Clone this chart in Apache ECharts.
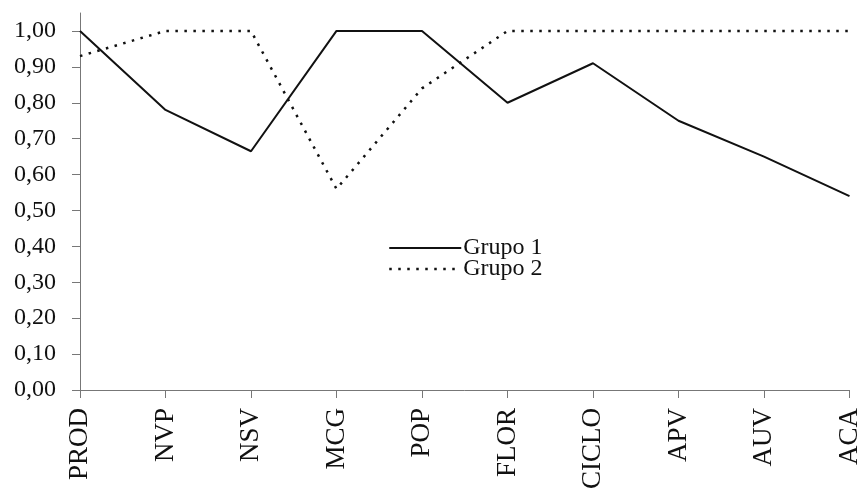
<!DOCTYPE html>
<html><head><meta charset="utf-8">
<script src="https://cdn.jsdelivr.net/npm/echarts@6/dist/echarts.min.js"></script>
<style>html,body{margin:0;padding:0;background:#fff}#c{width:863px;height:496px}</style>
</head><body><div id="c"></div>
<script>
const categories = ['PROD','NVP','NSV','MCG','POP','FLOR','CICLO','APV','AUV','ACA'];
const grupo1 = [1.00, 0.78, 0.665, 1.00, 1.00, 0.80, 0.91, 0.75, 0.65, 0.54];
const grupo2 = [0.93, 1.00, 1.00, 0.56, 0.84, 1.00, 1.00, 1.00, 1.00, 1.00];
const seriesNames = ['Grupo 1', 'Grupo 2'];

const font = '"Liberation Serif", "DejaVu Serif", serif';
const chart = echarts.init(document.getElementById('c'));
chart.setOption({
  animation: false,
  backgroundColor: '#fff',
  grid: {left: 80, right: 13, top: 13, bottom: 106, containLabel: false},
  legend: {
    orient: 'vertical', left: 383, top: 231, itemWidth: 72, itemHeight: 10, itemGap: -3,
    itemStyle: {opacity: 0},
    textStyle: {fontFamily: font, fontSize: 24, color: '#111', padding: [0, 0, 0, -3]},
    data: [
      {name: seriesNames[0]},
      {name: seriesNames[1], lineStyle: {type: [2.5, 6.5], width: 2.5, color: '#111'}}
    ]
  },
  xAxis: {
    type: 'category', data: categories, boundaryGap: false,
    axisLine: {lineStyle: {color: '#777', width: 1}},
    axisTick: {show: true, length: 8, lineStyle: {color: '#777'}, alignWithLabel: true},
    axisLabel: {rotate: 90, fontFamily: font, fontSize: 27, color: '#111', margin: 18, interval: 0}
  },
  yAxis: {
    type: 'value', min: 0, max: 1.05, interval: 0.1,
    axisLine: {show: true, lineStyle: {color: '#777', width: 1}},
    axisTick: {show: true, length: 8, lineStyle: {color: '#777'}},
    splitLine: {show: false},
    axisLabel: {showMaxLabel: false, fontFamily: font, fontSize: 24, color: '#111', margin: 24,
      formatter: v => v.toFixed(2).replace('.', ',')}
  },
  series: [
    {name: seriesNames[0], type: 'line', data: grupo1, symbol: 'none',
     lineStyle: {color: '#111', width: 2, type: 'solid'}, itemStyle: {color: '#111'}},
    {name: seriesNames[1], type: 'line', data: grupo2, symbol: 'none',
     lineStyle: {color: '#111', width: 2.5, type: [2.5, 6.5]}, itemStyle: {color: '#111'}}
  ]
});
</script></body></html>
